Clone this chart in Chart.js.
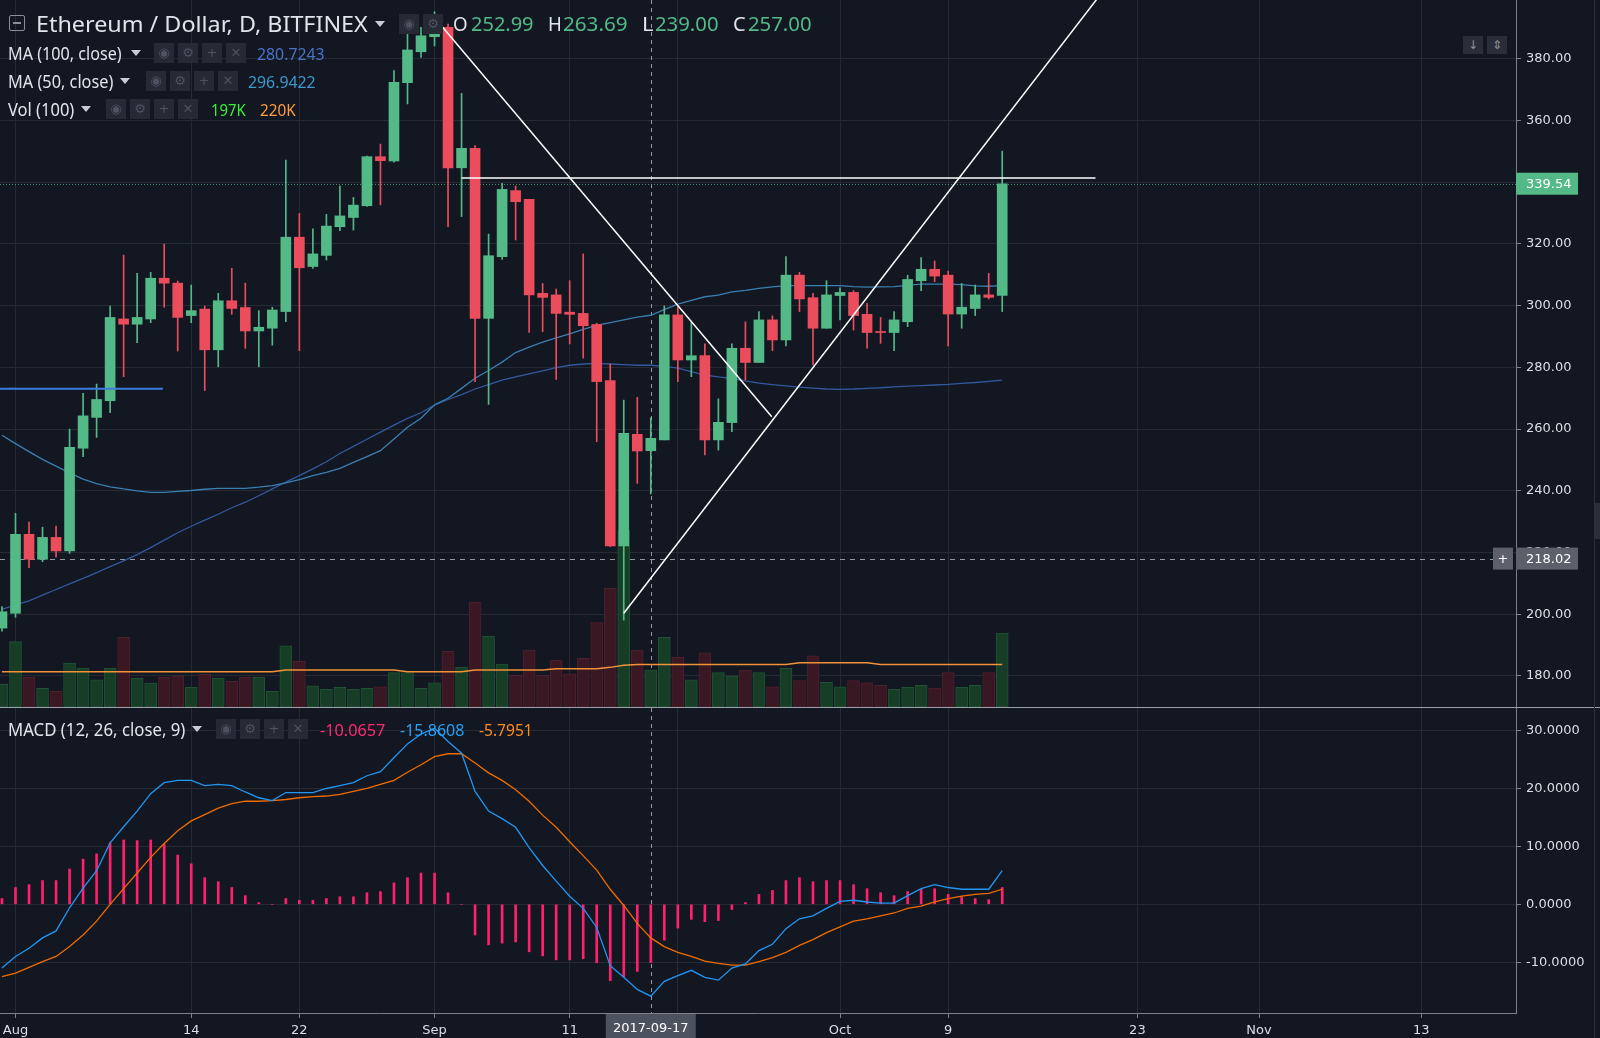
<!DOCTYPE html>
<html lang="en">
<head>
<meta charset="UTF-8"/>
<title>Ethereum / Dollar, D, BITFINEX</title>
<script src="https://cdn.jsdelivr.net/npm/chart.js@4.4.1/dist/chart.umd.min.js"></script>
<style>
  html, body { margin: 0; padding: 0; background: #131722; }
  body { width: 1600px; height: 1038px; position: relative; overflow: hidden; font-family: "Noto Sans", sans-serif; }
  canvas { position: absolute; left: 0; }
  #main { top: 0; }
  #macd { top: 708px; }
  .sep { position: absolute; left: 0; top: 707px; width: 1600px; height: 1px; background: #9a9ea8; }
  .rstrip { position: absolute; left: 1594px; top: 0; width: 1px; height: 1038px; background: #2a2e39; }
  .rtab { position: absolute; left: 1594px; top: 503px; width: 6px; height: 36px; background: #2a2e39; }
  .t { position: absolute; white-space: nowrap; transform-origin: 0 50%; line-height: 1; }
  .ico { position: absolute; width: 20px; height: 20px; background: #262a35; color: #4c5260; font: 13px "DejaVu Sans"; text-align: center; line-height: 20px; }
  .caret { position: absolute; width: 0; height: 0; border-left: 5px solid transparent; border-right: 5px solid transparent; border-top: 6px solid #c9ccd3; }
  .sym { position: absolute; left: 9px; top: 15px; width: 14px; height: 14px; border: 1.5px solid #8a8e99; border-radius: 2px; }
  .sym::after { content: ""; position: absolute; left: 3px; top: 6px; width: 8px; height: 1.5px; background: #8a8e99; }
  .btn { position: absolute; top: 36px; width: 20px; height: 18px; background: #2a2e39; color: #8f939e; font: 12px "DejaVu Sans"; text-align: center; line-height: 18px; }
</style>
</head>
<body>
  <canvas id="main" width="1600" height="707"></canvas>
  <canvas id="macd" width="1600" height="330"></canvas>
  <div class="sep"></div>
  <div class="rstrip"></div>
  <div class="rtab"></div>

  <!-- legend, main pane -->
  <div class="sym"></div>
  <div class="t" style="left:36px;top:12px;font-size:22px;color:#e1e4ea" data-w="332">Ethereum / Dollar, D, BITFINEX</div>
  <div class="caret" style="left:375px;top:21px"></div>
  <div class="ico" style="left:399px;top:14px">◉</div>
  <div class="ico" style="left:423px;top:14px">⚙</div>
  <div class="t" style="left:453px;top:14px;font-size:20px;color:#e1e4ea" data-w="15">O</div>
  <div class="t" style="left:471px;top:14px;font-size:20px;color:#53b987" data-w="63">252.99</div>
  <div class="t" style="left:548px;top:14px;font-size:20px;color:#e1e4ea" data-w="14">H</div>
  <div class="t" style="left:563px;top:14px;font-size:20px;color:#53b987" data-w="65">263.69</div>
  <div class="t" style="left:642px;top:14px;font-size:20px;color:#e1e4ea" data-w="11">L</div>
  <div class="t" style="left:655px;top:14px;font-size:20px;color:#53b987" data-w="64">239.00</div>
  <div class="t" style="left:733px;top:14px;font-size:20px;color:#e1e4ea" data-w="13">C</div>
  <div class="t" style="left:748px;top:14px;font-size:20px;color:#53b987" data-w="64">257.00</div>

  <div class="t" style="left:8px;top:44px;font-size:18px;color:#e1e4ea" data-w="114">MA (100, close)</div>
  <div class="caret" style="left:131px;top:50px"></div>
  <div class="ico" style="left:154px;top:43px">◉</div>
  <div class="ico" style="left:178px;top:43px">⚙</div>
  <div class="ico" style="left:202px;top:43px">+</div>
  <div class="ico" style="left:226px;top:43px">✕</div>
  <div class="t" style="left:257px;top:45px;font-size:17px;color:#4a72c8" data-w="68">280.7243</div>

  <div class="t" style="left:8px;top:72px;font-size:18px;color:#e1e4ea" data-w="105">MA (50, close)</div>
  <div class="caret" style="left:120px;top:78px"></div>
  <div class="ico" style="left:146px;top:71px">◉</div>
  <div class="ico" style="left:170px;top:71px">⚙</div>
  <div class="ico" style="left:194px;top:71px">+</div>
  <div class="ico" style="left:218px;top:71px">✕</div>
  <div class="t" style="left:248px;top:73px;font-size:17px;color:#3d97c9" data-w="68">296.9422</div>

  <div class="t" style="left:8px;top:100px;font-size:18px;color:#e1e4ea" data-w="66">Vol (100)</div>
  <div class="caret" style="left:81px;top:106px"></div>
  <div class="ico" style="left:106px;top:99px">◉</div>
  <div class="ico" style="left:130px;top:99px">⚙</div>
  <div class="ico" style="left:154px;top:99px">+</div>
  <div class="ico" style="left:178px;top:99px">✕</div>
  <div class="t" style="left:211px;top:101px;font-size:17px;color:#3cf03c" data-w="35">197K</div>
  <div class="t" style="left:260px;top:101px;font-size:17px;color:#ff9d3b" data-w="36">220K</div>

  <div class="btn" style="left:1463px">↓</div>
  <div class="btn" style="left:1487px">⇕</div>

  <!-- legend, MACD pane -->
  <div class="t" style="left:8px;top:720px;font-size:18px;color:#e1e4ea" data-w="177">MACD (12, 26, close, 9)</div>
  <div class="caret" style="left:192px;top:726px"></div>
  <div class="ico" style="left:216px;top:719px">◉</div>
  <div class="ico" style="left:240px;top:719px">⚙</div>
  <div class="ico" style="left:264px;top:719px">+</div>
  <div class="ico" style="left:288px;top:719px">✕</div>
  <div class="t" style="left:320px;top:721px;font-size:17px;color:#ff2a6f" data-w="65">-10.0657</div>
  <div class="t" style="left:400px;top:721px;font-size:17px;color:#2aa0f5" data-w="64">-15.8608</div>
  <div class="t" style="left:479px;top:721px;font-size:17px;color:#ff8c1a" data-w="54">-5.7951</div>

<script>
// days are counted from 2017-08-01 (day 0); first candle is 2017-07-31
const FIRST_DAY = -1;

const opens = [195.5, 200.3, 225.9, 217.8, 224.9, 220.5, 253.8, 263.8, 269.2, 295.7, 294.0, 295.7, 308.9, 307.3, 296.8,
  298.9, 285.7, 301.6, 299.4, 291.8, 292.7, 298.1, 322.2, 312.7, 316.3, 325.6, 328.6, 332.4, 348.3, 346.9, 372.3, 382.3,
  387.2, 390.2, 344.7, 351.0, 295.9, 315.9, 337.3, 334.5, 304.0, 303.5, 297.9, 297.5, 293.9, 275.7, 222.1, 258.3, 252.99,
  256.5, 297.0, 282.4, 283.8, 256.5, 262.1, 286.2, 281.6, 295.4, 288.9, 309.9, 302.6, 292.7, 303.3, 304.3, 297.2, 291.6,
  291.3, 294.8, 308.1, 311.8, 309.9, 297.3, 299.1, 303.5, 303.3];
const highs = [202.5, 232.7, 229.9, 228.2, 228.6, 260.0, 271.6, 274.6, 299.9, 316.4, 310.5, 310.8, 320.0, 308.0, 306.7,
  299.9, 304.0, 312.1, 307.3, 298.4, 299.5, 347.2, 329.9, 324.9, 329.6, 338.8, 335.1, 348.5, 352.4, 376.2, 390.4, 390.2,
  395.3, 391.3, 368.8, 351.9, 323.2, 339.7, 338.8, 334.5, 307.2, 305.4, 308.1, 316.8, 294.3, 281.1, 269.4, 270.3, 263.69,
  299.9, 299.7, 294.5, 287.6, 269.8, 287.6, 294.8, 298.1, 296.7, 315.9, 310.8, 304.0, 308.1, 305.8, 304.9, 300.8, 296.2,
  298.1, 309.9, 315.6, 314.5, 311.2, 307.2, 306.7, 310.5, 350.1];
const lows = [194.5, 199.0, 215.1, 217.0, 218.6, 219.7, 251.1, 257.3, 265.3, 277.0, 288.0, 294.5, 299.5, 285.3, 294.5,
  272.5, 280.2, 297.2, 286.2, 280.2, 287.2, 294.8, 285.4, 312.1, 314.8, 324.3, 324.5, 332.2, 332.7, 346.5, 365.4, 380.5,
  384.2, 325.6, 328.9, 275.4, 268.0, 315.0, 321.3, 291.3, 291.6, 276.1, 287.6, 283.0, 255.9, 221.9, 198.1, 242.4, 239.0,
  256.5, 275.4, 277.0, 251.6, 253.2, 259.2, 275.9, 281.6, 285.4, 287.0, 298.1, 280.8, 292.7, 295.4, 292.1, 286.2, 287.8,
  285.4, 293.2, 304.9, 307.8, 287.0, 292.7, 296.8, 302.2, 298.1];
const closes = [200.8, 225.9, 217.8, 224.9, 220.5, 254.1, 264.3, 269.6, 296.2, 294.0, 296.2, 308.9, 307.3, 296.2, 298.4,
  285.7, 301.6, 299.1, 291.8, 293.0, 298.6, 322.2, 312.3, 316.8, 325.8, 329.1, 332.6, 348.3, 347.0, 372.4, 382.9, 387.5,
  390.7, 344.7, 351.0, 295.9, 316.2, 337.7, 333.7, 303.5, 302.7, 297.5, 297.2, 293.5, 275.4, 222.1, 258.6, 252.9, 257.0,
  297.0, 282.4, 283.8, 256.5, 262.2, 286.2, 281.6, 295.4, 288.9, 309.9, 302.2, 292.7, 303.5, 304.3, 296.8, 291.3, 291.3,
  295.4, 308.5, 311.8, 309.6, 297.3, 299.5, 303.5, 302.7, 339.54];
// volume in thousands
const volumes = [121, 348, 158, 100, 84, 234, 206, 144, 206, 371, 153, 128, 158, 165, 105, 174, 153, 137, 158, 158, 84,
  325, 243, 113, 94, 105, 94, 100, 108, 183, 183, 100, 129, 297, 211, 559, 378, 229, 169, 303, 169, 250, 176, 259, 449,
  632, 942, 303, 197, 371, 265, 144, 288, 183, 165, 197, 183, 108, 206, 140, 273, 131, 108, 140, 129, 116, 94, 105, 116,
  101, 183, 105, 116, 183, 394];
const volMa = [188, 188, 188, 188, 188, 188, 188, 188, 188, 188, 188, 188, 188, 188, 188, 188, 188, 188, 188, 188, 188,
  197, 197, 197, 197, 197, 197, 197, 197, 197, 188, 188, 188, 188, 188, 197, 197, 197, 197, 197, 197, 204, 204, 204, 204,
  211, 222, 226, 226, 226, 226, 226, 226, 226, 226, 226, 226, 226, 226, 236, 236, 236, 236, 236, 236, 226, 226, 226, 226,
  226, 226, 226, 226, 226, 226];
const ma50 = [258.0, 255.3, 252.7, 250.2, 248.0, 245.8, 243.8, 242.3, 241.3, 240.6, 240.0, 239.5, 239.5, 239.8, 240.1,
  240.5, 240.8, 240.8, 240.8, 241.2, 241.7, 242.6, 243.6, 244.9, 246.0, 247.3, 249.2, 251.1, 253.0, 256.8, 260.6, 263.5,
  267.9, 270.0, 273.2, 276.5, 279.0, 281.7, 284.8, 286.6, 288.2, 289.6, 290.9, 292.3, 293.6, 294.5, 295.4, 296.3, 296.9,
  298.7, 300.5, 301.7, 302.9, 303.4, 304.5, 305.0, 305.6, 306.1, 306.5, 306.5, 306.5, 306.5, 306.5, 306.2, 306.0, 306.1,
  306.2, 306.6, 307.0, 307.0, 307.0, 306.8, 306.4, 306.3, 306.5];
const ma100 = [201.6, 203.0, 204.3, 206.2, 208.0, 209.8, 211.6, 213.5, 215.4, 217.3, 219.3, 221.6, 224.0, 226.4, 228.5,
  230.5, 232.4, 234.5, 236.3, 238.4, 240.6, 242.8, 244.9, 247.1, 249.4, 252.1, 254.4, 256.7, 259.0, 261.3, 263.5, 265.3,
  267.8, 269.6, 271.2, 273.0, 274.4, 275.9, 276.9, 277.9, 278.9, 279.9, 280.7, 281.1, 281.3, 281.1, 280.9, 280.7, 280.7,
  280.3, 279.8, 278.6, 277.5, 276.9, 276.4, 275.6, 274.9, 274.4, 274.0, 273.6, 273.3, 273.0, 272.9, 273.0, 273.2, 273.4,
  273.7, 273.9, 274.1, 274.3, 274.5, 274.8, 275.1, 275.5, 275.9];
const macdLine = [-11.0, -9.0, -7.6, -5.8, -4.6, -0.6, 2.8, 5.8, 10.6, 13.4, 16.1, 19.1, 21.0, 21.4, 21.4, 20.5, 20.7,
  20.5, 19.4, 18.4, 17.9, 19.3, 19.3, 19.3, 20.0, 20.5, 21.0, 22.2, 22.9, 25.3, 27.7, 29.4, 30.4, 28.1, 26.1, 19.5, 16.1,
  14.8, 13.3, 9.8, 6.7, 4.0, 1.4, -0.7, -4.0, -10.6, -12.6, -14.7, -15.86, -13.3, -12.3, -11.4, -12.6, -13.1, -11.0, -10.3,
  -8.0, -6.9, -4.2, -2.5, -2.0, -0.7, 0.5, 0.7, 0.4, 0.2, 0.2, 1.5, 2.7, 3.4, 2.9, 2.6, 2.6, 2.6, 5.8];
const signalLine = [-12.5, -11.9, -10.9, -9.9, -9.0, -7.3, -5.3, -2.9, 0.0, 2.7, 5.4, 8.1, 10.5, 12.7, 14.4, 15.5, 16.6,
  17.4, 17.8, 17.8, 17.9, 18.1, 18.4, 18.6, 18.7, 19.0, 19.5, 20.0, 20.7, 21.4, 22.8, 24.1, 25.5, 26.0, 26.0, 24.4, 22.7,
  21.4, 19.8, 17.8, 15.4, 13.3, 10.8, 8.4, 5.9, 2.6, -0.2, -3.3, -5.80, -7.3, -8.3, -9.0, -9.8, -10.2, -10.5, -10.5, -9.9,
  -9.2, -8.3, -7.1, -6.1, -4.9, -3.9, -2.9, -2.5, -2.0, -1.5, -0.7, -0.3, 0.4, 1.0, 1.4, 1.7, 1.9, 2.6];
const macdHist = [1.0, 2.9, 3.4, 4.1, 4.1, 6.1, 7.8, 8.7, 10.6, 11.1, 11.0, 11.1, 10.4, 8.5, 7.0, 4.6, 3.9, 2.9, 1.5, 0.3,
  0.0, 1.0, 0.7, 0.7, 1.0, 1.3, 1.3, 2.0, 2.2, 3.7, 4.6, 5.4, 5.4, 2.0, 0.0, -5.3, -7.0, -6.7, -6.5, -8.2, -8.9, -9.6, -9.6,
  -9.4, -10.1, -13.2, -12.5, -11.6, -10.07, -6.2, -4.1, -2.6, -3.0, -2.8, -0.9, 0.3, 1.7, 2.4, 4.1, 4.6, 3.9, 4.1, 4.1, 3.4,
  2.7, 2.0, 1.5, 2.2, 2.6, 2.7, 1.7, 1.3, 1.0, 0.8, 2.9];

// time axis
const tickDays = [0, 13, 21, 31, 41, 49, 61, 69, 83, 92, 104];
const tickLabels = ['Aug', '14', '22', 'Sep', '11', '19', 'Oct', '9', '23', 'Nov', '13'];
const priceTicks = [180, 200, 220, 240, 260, 280, 300, 320, 340, 360, 380];
const macdTicks = [-10, 0, 10, 20, 30];

// drawings: [day, price] anchors
const downTrend = [[30.9, 393.9], [55.95, 264.0]];
const upTrend = [[45.0, 200.3], [85.0, 427.8]];
const resistance = [[33.0, 341.4], [79.9, 341.4]];
const blueRay = [[-1.2, 273.1], [10.9, 273.1]];

const LAST_PRICE = 339.54;
const CROSS_DAY = 47;
const CROSS_PRICE = 218.02;
const CROSS_DATE = '2017-09-17';

const X_MIN = -1.147, X_MAX = 111.01;
const UP = '#53b987', DOWN = '#eb4d5c';
const GRID = '#262a35';
const AXIS_TEXT = '#dcdfe6';
const AXIS_LINE = '#7d818c';
const AXIS_FONT = { family: 'DejaVu Sans', size: 13 };

const days = closes.map((_, i) => FIRST_DAY + i);
const isUp = i => closes[i] >= opens[i];
const pts = arr => arr.map((v, i) => ({ x: days[i], y: v }));
const seg = arr => arr.map(([x, y]) => ({ x, y }));
const lineDs = (data, color, width, axis, order) => ({
  type: 'line', data, yAxisID: axis, borderColor: color, borderWidth: width,
  pointRadius: 0, tension: 0, order
});

Chart.defaults.animation = false;
Chart.defaults.font.family = 'DejaVu Sans';

function fixedY(width) {
  return s => { s.width = width; s.paddingTop = 0; s.paddingBottom = 0; };
}

function drawBox(ctx, x, y, w, h, bg, text) {
  ctx.fillStyle = bg;
  ctx.fillRect(x, y, w, h);
  ctx.fillStyle = '#ffffff';
  ctx.font = '13px "DejaVu Sans"';
  ctx.textBaseline = 'middle';
  ctx.textAlign = 'left';
  ctx.fillText(text, x + 10, y + h / 2 + 1);
}

const mainLines = {
  id: 'mainLines',
  beforeDatasetsDraw(chart) {
    const { ctx, chartArea: a, scales: { x, y } } = chart;
    ctx.save();
    ctx.lineWidth = 1;
    const yl = Math.round(y.getPixelForValue(LAST_PRICE)) + 0.5;
    ctx.strokeStyle = 'rgba(83,185,135,0.75)';
    ctx.setLineDash([1, 2]);
    ctx.beginPath(); ctx.moveTo(a.left, yl); ctx.lineTo(a.right, yl); ctx.stroke();
    ctx.strokeStyle = '#9598a1';
    ctx.setLineDash([5, 5]);
    const yc = Math.round(y.getPixelForValue(CROSS_PRICE)) + 0.5;
    ctx.beginPath(); ctx.moveTo(a.left, yc); ctx.lineTo(a.right - 23, yc); ctx.stroke();
    const xc = Math.round(x.getPixelForValue(CROSS_DAY)) + 0.5;
    ctx.setLineDash([4, 4]);
    ctx.beginPath(); ctx.moveTo(xc, a.top); ctx.lineTo(xc, a.bottom); ctx.stroke();
    ctx.restore();
  },
  afterDraw(chart) {
    const { ctx, chartArea: a, scales: { y } } = chart;
    ctx.save();
    const yl = y.getPixelForValue(LAST_PRICE);
    drawBox(ctx, a.right, yl - 11, 62, 22, UP, LAST_PRICE.toFixed(2));
    const yc = y.getPixelForValue(CROSS_PRICE);
    drawBox(ctx, a.right, yc - 11, 62, 22, '#5d606b', CROSS_PRICE.toFixed(2));
    ctx.fillStyle = '#5d606b';
    ctx.fillRect(a.right - 23, yc - 11, 20, 22);
    ctx.fillStyle = '#ffffff';
    ctx.textAlign = 'center';
    ctx.fillText('+', a.right - 13, yc + 1);
    ctx.restore();
  }
};

const macdLines = {
  id: 'macdLines',
  beforeDatasetsDraw(chart) {
    const { ctx, chartArea: a, scales: { x } } = chart;
    ctx.save();
    ctx.strokeStyle = '#9598a1';
    ctx.lineWidth = 1;
    ctx.setLineDash([4, 4]);
    const xc = Math.round(x.getPixelForValue(CROSS_DAY)) + 0.5;
    ctx.beginPath(); ctx.moveTo(xc, a.top); ctx.lineTo(xc, a.bottom); ctx.stroke();
    ctx.restore();
  },
  afterDraw(chart) {
    const { ctx, chartArea: a, scales: { x } } = chart;
    ctx.save();
    const xc = x.getPixelForValue(CROSS_DAY);
    ctx.fillStyle = '#4c525e';
    ctx.fillRect(xc - 45, a.bottom + 1, 90, 26);
    ctx.fillStyle = '#ffffff';
    ctx.font = '13px "DejaVu Sans"';
    ctx.textAlign = 'center';
    ctx.textBaseline = 'middle';
    ctx.fillText(CROSS_DATE, xc, a.bottom + 16);
    ctx.restore();
  }
};

const xScale = (showLabels) => ({
  type: 'linear', min: X_MIN, max: X_MAX, offset: false,
  afterBuildTicks: s => { s.ticks = tickDays.map(v => ({ value: v })); },
  ticks: showLabels ? {
    color: AXIS_TEXT, font: AXIS_FONT, padding: 5, maxRotation: 0, autoSkip: false,
    callback: v => tickLabels[tickDays.indexOf(v)]
  } : { display: false },
  grid: showLabels
    ? { color: GRID, tickColor: AXIS_LINE, tickLength: 5, offset: false }
    : { color: GRID, drawTicks: false, offset: false },
  border: showLabels ? { color: AXIS_LINE } : { display: false },
  afterFit: s => { s.height = showLabels ? 25 : 0; s.paddingLeft = 0; s.paddingRight = 0; }
});

new Chart(document.getElementById('main'), {
  type: 'bar',
  data: {
    datasets: [
      {
        type: 'bar', label: 'Volume', yAxisID: 'vol', grouped: false, order: 10,
        data: pts(volumes), barThickness: 12,
        backgroundColor: c => isUp(c.dataIndex) ? '#173d27' : '#3a1823',
        borderColor: c => isUp(c.dataIndex) ? '#1f5233' : '#4e1f2c',
        borderWidth: 1, borderSkipped: false
      },
      lineDs(pts(volMa), '#f0923a', 1.5, 'vol', 9),
      lineDs(pts(ma100), '#33589b', 1.3, 'y', 8),
      lineDs(pts(ma50), '#3a7fb0', 1.3, 'y', 7),
      {
        type: 'bar', label: 'Wicks', yAxisID: 'y', grouped: false, order: 5,
        data: highs.map((h, i) => ({ x: days[i], y: [lows[i], h] })),
        barThickness: 1, backgroundColor: c => isUp(c.dataIndex) ? UP : DOWN
      },
      {
        type: 'bar', label: 'Bodies', yAxisID: 'y', grouped: false, order: 4,
        data: opens.map((o, i) => ({ x: days[i], y: [o, closes[i]] })),
        barThickness: 10, minBarLength: 1, backgroundColor: c => isUp(c.dataIndex) ? UP : DOWN
      },
      lineDs(seg(blueRay), '#3f7ce0', 2, 'y', 2),
      lineDs(seg(resistance), '#ffffff', 1.5, 'y', 1),
      lineDs(seg(downTrend), '#ffffff', 1.5, 'y', 1),
      lineDs(seg(upTrend), '#ffffff', 1.5, 'y', 1)
    ]
  },
  options: {
    responsive: false,
    devicePixelRatio: 1,
    events: [],
    layout: { padding: 0 },
    plugins: { legend: { display: false }, tooltip: { enabled: false } },
    scales: {
      x: xScale(false),
      y: {
        position: 'right', min: 169.92, max: 399.09,
        afterBuildTicks: s => { s.ticks = priceTicks.map(v => ({ value: v })); },
        ticks: { color: AXIS_TEXT, font: AXIS_FONT, padding: 5, callback: v => v.toFixed(2) },
        grid: { color: GRID, tickColor: AXIS_LINE, tickLength: 5 },
        border: { color: AXIS_LINE },
        afterFit: fixedY(84)
      },
      vol: { display: false, min: 0, max: 3764 }
    }
  },
  plugins: [mainLines]
});

new Chart(document.getElementById('macd'), {
  type: 'bar',
  data: {
    datasets: [
      {
        type: 'bar', label: 'Histogram', yAxisID: 'y', grouped: false, order: 3,
        data: pts(macdHist), barThickness: 2, backgroundColor: '#ff1f6c'
      },
      lineDs(pts(signalLine), '#ef6c00', 1.3, 'y', 2),
      lineDs(pts(macdLine), '#2196f3', 1.3, 'y', 1)
    ]
  },
  options: {
    responsive: false,
    devicePixelRatio: 1,
    events: [],
    layout: { padding: 0 },
    plugins: { legend: { display: false }, tooltip: { enabled: false } },
    scales: {
      x: xScale(true),
      y: {
        position: 'right', min: -18.77, max: 33.9,
        afterBuildTicks: s => { s.ticks = macdTicks.map(v => ({ value: v })); },
        ticks: { color: AXIS_TEXT, font: AXIS_FONT, padding: 5, callback: v => v.toFixed(4) },
        grid: { color: GRID, tickColor: AXIS_LINE, tickLength: 5 },
        border: { color: AXIS_LINE },
        afterFit: fixedY(84)
      }
    }
  },
  plugins: [macdLines]
});

// stretch legend texts to the widths they have in the original
document.querySelectorAll('[data-w]').forEach(el => {
  const w = +el.dataset.w;
  el.style.transform = `scaleX(${w / el.offsetWidth})`;
});
</script>
</body>
</html>
